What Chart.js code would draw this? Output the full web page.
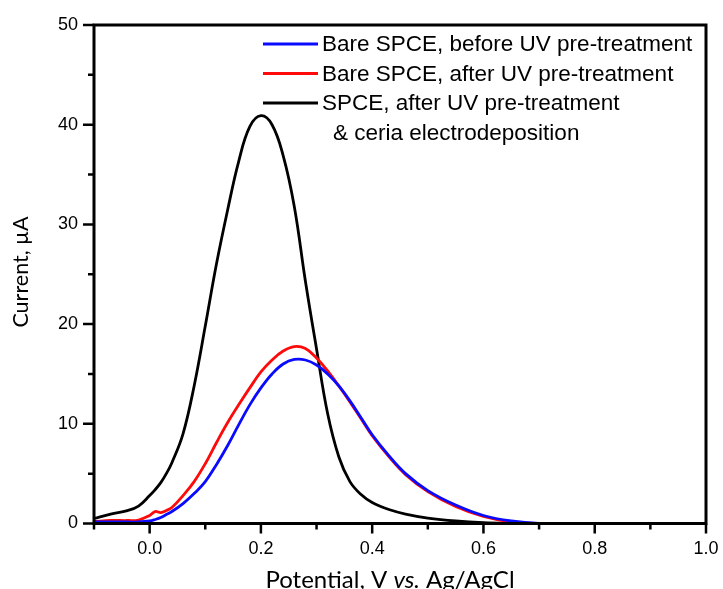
<!DOCTYPE html>
<html>
<head>
<meta charset="utf-8">
<script src="https://cdn.jsdelivr.net/npm/chart.js@4.4.1/dist/chart.umd.min.js"></script>
<style>
  body { margin: 0; background: #fff; }
  canvas { display: block; }
</style>
</head>
<body>
<canvas id="myChart" width="723" height="589"></canvas>
<script>
// potential, V vs Ag/AgCl (shared grid for all three curves)
const potential = [-0.1, -0.07, -0.04, -0.02, 0, 0.01, 0.02, 0.03, 0.04, 0.06, 0.08, 0.1, 0.12, 0.14, 0.16, 0.18, 0.2, 0.22, 0.24, 0.26, 0.28, 0.3, 0.32, 0.34, 0.36, 0.38, 0.4, 0.43, 0.46, 0.5, 0.55, 0.6, 0.65, 0.7, 0.8, 0.9, 1.0];

// current, uA
const bareBefore = [0.15, 0.15, 0.15, 0.15, 0.25, 0.4, 0.6, 0.9, 1.2, 2.0, 3.0, 4.2, 5.9, 7.8, 9.9, 11.9, 13.6, 15.0, 16.0, 16.45, 16.4, 15.9, 15.0, 13.8, 12.3, 10.6, 8.9, 6.8, 5.0, 3.3, 1.85, 0.8, 0.25, 0.02, 0, 0, 0];
const bareAfter = [0.2, 0.3, 0.3, 0.35, 0.8, 1.2, 1.1, 1.3, 1.6, 2.8, 4.2, 6.0, 8.1, 10.1, 11.9, 13.6, 15.2, 16.4, 17.3, 17.75, 17.55, 16.6, 15.3, 13.8, 12.2, 10.5, 8.8, 6.7, 4.9, 3.2, 1.7, 0.7, 0.15, 0, 0, 0, 0];
const ceriaAfter = [0.5, 0.95, 1.3, 1.75, 2.8, 3.4, 4.1, 5.0, 6.1, 9.0, 13.8, 19.8, 26.0, 31.4, 36.3, 39.8, 40.9, 40.0, 36.9, 31.8, 24.3, 17.5, 11.0, 6.7, 4.2, 2.9, 2.1, 1.4, 0.95, 0.55, 0.25, 0.08, 0.02, 0, 0, 0, 0];

const seriesLabels = [
  ["Bare SPCE, before UV pre-treatment"],
  ["Bare SPCE, after UV pre-treatment"],
  ["SPCE, after UV pre-treatment", "& ceria electrodeposition"],
];
const seriesColors = ["#0a0aff", "#ff0a0a", "#000000"];

const xTicks = [0, 0.2, 0.4, 0.6, 0.8, 1.0];
const xMinorTicks = [-0.1, 0.1, 0.3, 0.5, 0.7, 0.9];
const yTicks = [0, 10, 20, 30, 40, 50];
const yMinorTicks = [5, 15, 25, 35, 45];

function toPoints(arr) {
  return potential.map((x, i) => ({ x: x, y: arr[i] }));
}

// frame, tick marks, legend and axis titles
const extras = {
  id: "extras",
  afterDraw(chart) {
    const ctx = chart.ctx;
    const a = chart.chartArea;
    const xs = chart.scales.x;
    const ys = chart.scales.y;
    ctx.save();
    ctx.strokeStyle = "#000";
    ctx.lineWidth = 3;
    ctx.strokeRect(a.left, a.top, a.right - a.left, a.bottom - a.top);

    ctx.lineWidth = 2.5;
    ctx.beginPath();
    xTicks.forEach((v) => {
      const px = xs.getPixelForValue(v);
      ctx.moveTo(px, a.bottom);
      ctx.lineTo(px, a.bottom + 10);
    });
    xMinorTicks.forEach((v) => {
      const px = xs.getPixelForValue(v);
      ctx.moveTo(px, a.bottom);
      ctx.lineTo(px, a.bottom + 6);
    });
    yTicks.forEach((v) => {
      const py = ys.getPixelForValue(v);
      ctx.moveTo(a.left, py);
      ctx.lineTo(a.left - 11, py);
    });
    yMinorTicks.forEach((v) => {
      const py = ys.getPixelForValue(v);
      ctx.moveTo(a.left, py);
      ctx.lineTo(a.left - 6, py);
    });
    ctx.stroke();

    // legend
    ctx.font = "22.5px 'Liberation Sans', Arial, sans-serif";
    ctx.textBaseline = "middle";
    ctx.textAlign = "left";
    ctx.fillStyle = "#000";
    let ly = 44;
    chart.data.datasets.forEach((ds, i) => {
      ctx.strokeStyle = ds.borderColor;
      ctx.lineWidth = 3;
      ctx.beginPath();
      ctx.moveTo(263, ly);
      ctx.lineTo(318, ly);
      ctx.stroke();
      seriesLabels[i].forEach((t, k) => {
        ctx.fillText(t, k === 0 ? 322 : 333, ly + 1);
        ly += 29.5;
      });
    });

    // axis titles
    ctx.fillStyle = "#000";
    ctx.font = "21.5px Lato, 'Open Sans', sans-serif";
    ctx.save();
    ctx.translate(21, 272);
    ctx.rotate(-Math.PI / 2);
    ctx.textAlign = "center";
    ctx.textBaseline = "middle";
    ctx.fillText("Current, \u00b5A", 0, 0);
    ctx.restore();

    const parts = [
      ["Potential, V ", "24px Lato, 'Open Sans', sans-serif"],
      ["vs.", "italic 24px Lato, 'Open Sans', sans-serif"],
      [" Ag/AgCl", "24px Lato, 'Open Sans', sans-serif"],
    ];
    let total = 0;
    parts.forEach((p) => {
      ctx.font = p[1];
      total += ctx.measureText(p[0]).width;
    });
    let tx = 390 - total / 2;
    ctx.textAlign = "left";
    ctx.textBaseline = "alphabetic";
    parts.forEach((p) => {
      ctx.font = p[1];
      ctx.fillText(p[0], tx, 588);
      tx += ctx.measureText(p[0]).width;
    });
    ctx.restore();
  },
};

var ctx = document.getElementById("myChart").getContext("2d");
var chart = new Chart(ctx, {
  type: "line",
  data: {
    datasets: [
      { label: seriesLabels[0].join(" "), data: toPoints(bareBefore), borderColor: seriesColors[0] },
      { label: seriesLabels[1].join(" "), data: toPoints(bareAfter), borderColor: seriesColors[1] },
      { label: seriesLabels[2].join(" "), data: toPoints(ceriaAfter), borderColor: seriesColors[2] },
    ],
  },
  options: {
    responsive: false,
    animation: false,
    layout: { padding: { left: 0, right: 17, top: 25, bottom: 0 } },
    elements: {
      point: { radius: 0 },
      line: { borderWidth: 2.8, tension: 0.4, fill: false },
    },
    plugins: {
      legend: { display: false },
      tooltip: { enabled: false },
    },
    scales: {
      x: {
        type: "linear",
        min: -0.1,
        max: 1.0,
        afterBuildTicks: (scale) => {
          scale.ticks = xTicks.map((v) => ({ value: v }));
        },
        afterFit: (scale) => {
          scale.height = 65.5;
          scale.paddingLeft = 0;
          scale.paddingRight = 0;
        },
        grid: { display: false, drawTicks: false },
        border: { display: false },
        ticks: {
          padding: 15,
          color: "#000",
          maxRotation: 0,
          font: { family: "'Liberation Sans', Arial, sans-serif", size: 18 },
          callback: (v) => Number(v).toFixed(1),
        },
      },
      y: {
        type: "linear",
        min: 0,
        max: 50,
        afterBuildTicks: (scale) => {
          scale.ticks = yTicks.map((v) => ({ value: v }));
        },
        afterFit: (scale) => {
          scale.width = 94;
          scale.paddingTop = 0;
          scale.paddingBottom = 0;
        },
        grid: { display: false, drawTicks: false },
        border: { display: false },
        ticks: {
          padding: 16,
          color: "#000",
          font: { family: "'Liberation Sans', Arial, sans-serif", size: 18 },
        },
      },
    },
  },
  plugins: [extras],
});
</script>
</body>
</html>
